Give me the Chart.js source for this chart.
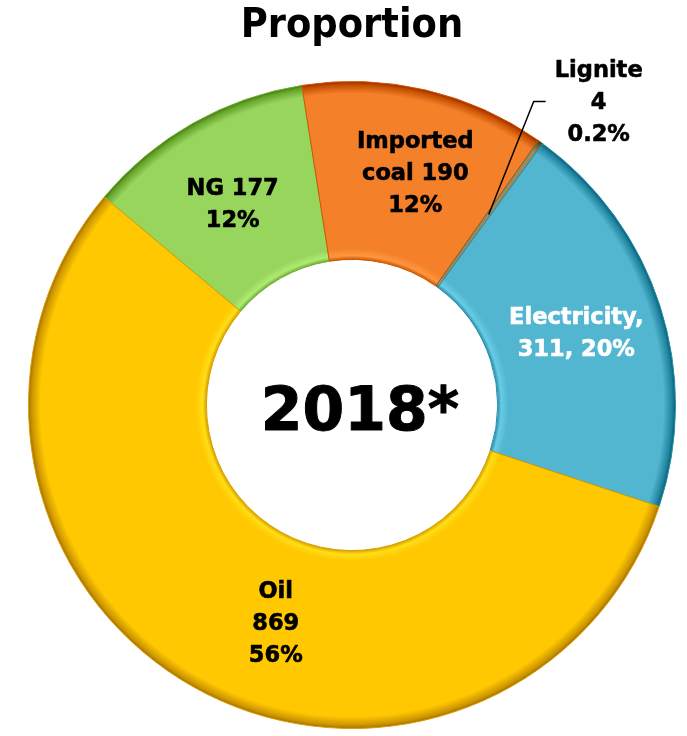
<!DOCTYPE html>
<html>
<head>
<meta charset="utf-8">
<title>Proportion 2018*</title>
<script src="https://cdn.jsdelivr.net/npm/chart.js@4.4.1/dist/chart.umd.min.js"></script>
<style>
    html, body { margin: 0; padding: 0; background: #ffffff; }
    #wrap { width: 687px; height: 736px; position: relative; }
</style>
</head>
<body>
<div id="wrap"><canvas id="shareChart" width="687" height="736"></canvas></div>
<script>
// --- Data ---
const categories = ['NG', 'Imported coal', 'Lignite', 'Electricity', 'Oil'];
const values = [177, 190, 4, 311, 869];
const shares = ['12%', '12%', '0.2%', '20%', '56%'];
const yearLabel = '2018*';
const titleText = 'Proportion';

// Label text per slice, as printed on the chart
const labelLines = [
    [`${categories[0]} ${values[0]}`, shares[0]],
    ['Imported', `coal ${values[1]}`, shares[1]],
    [categories[2], `${values[2]}`, shares[2]],
    [`${categories[3]},`, `${values[3]}, ${shares[3]}`],
    [categories[4], `${values[4]}`, shares[4]]
];

// --- Styles ---
const COLORS = ['#98D55C', '#F5802A', '#9C8A5F', '#52B6D1', '#FFC800'];
const LABEL_COLORS = ['#000', '#000', '#000', '#fff', '#000'];
// nudges from each arc's centre point to where its label sits
const LABEL_NUDGE = [[-4, 4], [10, -2], [110, -111], [1, 1], [38, 14]];
const LABEL_FONT = 'bold 22.5px "DejaVu Sans", Verdana, sans-serif';
const LINE_H = 32;

const shade = (hex, amt) => {
    const n = parseInt(hex.slice(1), 16);
    const c = (v) => Math.max(0, Math.min(255, v + amt));
    const r = c(n >> 16), g = c((n >> 8) & 255), b = c(n & 255);
    return `rgb(${r},${g},${b})`;
};

/**
 * Radial gradient giving the ring a soft bevelled look
 */
const bevel = (ctx) => {
    const chart = ctx.chart;
    const base = COLORS[ctx.dataIndex];
    const area = chart.chartArea;
    if (!area) return base;
    const cx = (area.left + area.right) / 2;
    const cy = (area.top + area.bottom) / 2;
    const outer = Math.min(area.width, area.height) / 2;
    const inner = outer * 0.45;
    const g = chart.ctx.createRadialGradient(cx, cy, inner, cx, cy, outer);
    g.addColorStop(0, shade(base, -35));
    g.addColorStop(0.02, shade(base, 22));
    g.addColorStop(0.06, base);
    g.addColorStop(0.93, base);
    g.addColorStop(0.978, shade(base, -50));
    g.addColorStop(1, shade(base, -95));
    return g;
};

// --- Plugins ---
const sliceLabels = {
    id: 'sliceLabels',
    afterDatasetsDraw(chart) {
        const { ctx } = chart;
        const meta = chart.getDatasetMeta(0);
        ctx.save();
        ctx.font = LABEL_FONT;
        ctx.textAlign = 'center';
        ctx.textBaseline = 'middle';
        ctx.lineJoin = 'round';

        meta.data.forEach((arc, i) => {
            const p = arc.tooltipPosition();
            const lx = p.x + LABEL_NUDGE[i][0];
            const ly = p.y + LABEL_NUDGE[i][1];
            const lines = labelLines[i];

            // leader line for the tiny lignite slice
            if (i === 2) {
                ctx.strokeStyle = '#000';
                ctx.lineWidth = 1.5;
                ctx.beginPath();
                ctx.moveTo(p.x, p.y);
                ctx.lineTo(p.x + 45, p.y - 113);
                ctx.lineTo(p.x + 57, p.y - 113);
                ctx.stroke();
            }

            ctx.fillStyle = LABEL_COLORS[i];
            ctx.strokeStyle = LABEL_COLORS[i];
            ctx.lineWidth = 0.6;
            const top = ly - (lines.length - 1) * LINE_H / 2;
            lines.forEach((t, k) => {
                ctx.fillText(t, lx, top + k * LINE_H);
                ctx.strokeText(t, lx, top + k * LINE_H);
            });
        });

        // year in the hole
        const a = chart.chartArea;
        ctx.fillStyle = '#000';
        ctx.strokeStyle = '#000';
        ctx.lineWidth = 1;
        ctx.font = 'bold 60px "DejaVu Sans", Verdana, sans-serif';
        const yx = (a.left + a.right) / 2 + 8;
        const yy = (a.top + a.bottom) / 2 + 9;
        ctx.fillText(yearLabel, yx, yy);
        ctx.strokeText(yearLabel, yx, yy);
        ctx.restore();
    }
};

// --- Chart ---
new Chart(document.getElementById('shareChart').getContext('2d'), {
    type: 'doughnut',
    data: {
        labels: categories,
        datasets: [{
            data: values,
            backgroundColor: bevel,
            borderColor: COLORS.map(c => shade(c, -40)),
            borderWidth: 1,
            hoverOffset: 0,
            offset: 0
        }]
    },
    options: {
        responsive: false,
        animation: false,
        rotation: -50,
        cutout: '45%',
        layout: { padding: { left: 28, right: 11, top: 0, bottom: 7 } },
        events: [],
        plugins: {
            legend: { display: false },
            tooltip: { enabled: false },
            title: {
                display: true,
                text: titleText,
                color: '#000',
                font: { family: '"DejaVu Sans Condensed", "DejaVu Sans", sans-serif', size: 41, weight: 'bold', lineHeight: 1 },
                padding: { top: 6, bottom: 34 }
            }
        }
    },
    plugins: [sliceLabels]
});
</script>
</body>
</html>
